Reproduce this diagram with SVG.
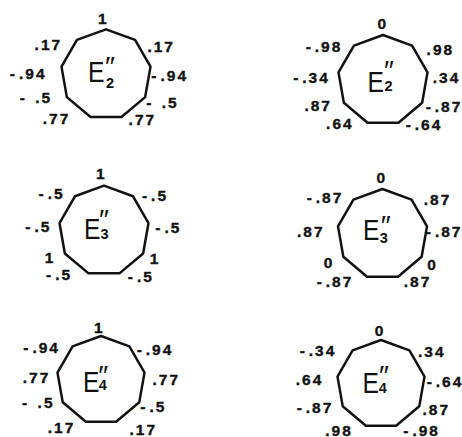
<svg xmlns="http://www.w3.org/2000/svg" xmlns:xlink="http://www.w3.org/1999/xlink" width="462" height="437" viewBox="0 0 462 437">
<style>
.bg{fill:#fff}
.poly{fill:none;stroke:#111;stroke-width:2.5;stroke-linejoin:round}
.v{font-family:"Liberation Sans",Arial,sans-serif;font-weight:bold;font-size:15.5px;letter-spacing:2px;text-anchor:middle;fill:#111;stroke:#111;stroke-width:0.35px}
.e{font-family:"Liberation Sans",Arial,sans-serif;font-size:29px;fill:#111}
.s{font-family:"Liberation Sans",Arial,sans-serif;font-weight:bold;font-size:14.5px;fill:#111}
.p{font-family:"Liberation Sans","DejaVu Sans",sans-serif;font-size:28px;fill:#111}
</style>
<defs>
<polygon id="nona" class="poly" points="0,-45.2 29.05,-34.62 44.51,-7.85 39.14,22.6 15.46,42.47 -15.46,42.47 -39.14,22.6 -44.51,-7.85 -29.05,-34.62"/>
</defs>
<rect class="bg" width="462" height="437"/>
<g id="connectors"/>
<g id="node-e2-a">
<use xlink:href="#nona" transform="translate(106,74.5)"/>
<text class="e" transform="translate(88.1,81.7) scale(0.85,1)">E</text>
<text class="s" x="106" y="88.3">2</text>
<text class="p" x="105" y="75.5">″</text>
<text class="v" x="103.2" y="23.5">1</text>
<text class="v" x="48.4" y="50">.17</text>
<text class="v" x="161.2" y="52.3">.17</text>
<text class="v" x="28.2" y="79">-<tspan dx="2">.94</tspan></text>
<text class="v" x="169.7" y="81.3">-<tspan dx="2">.94</tspan></text>
<text class="v" x="36" y="102.7">-<tspan dx="2"> .5</tspan></text>
<text class="v" x="162.4" y="108">-<tspan dx="2"> .5</tspan></text>
<text class="v" x="56.5" y="124">.77</text>
<text class="v" x="142.4" y="125">.77</text>
</g>
<g id="node-e2-b">
<use xlink:href="#nona" transform="translate(383,80.2)"/>
<text class="e" transform="translate(367.4,91.7) scale(0.85,1)">E</text>
<text class="s" x="384.5" y="90.7">2</text>
<text class="p" x="384" y="80">″</text>
<text class="v" x="382.7" y="29.3">0</text>
<text class="v" x="324" y="51.7">-<tspan dx="2">.98</tspan></text>
<text class="v" x="440.4" y="55">.98</text>
<text class="v" x="311.5" y="83.3">-<tspan dx="2">.34</tspan></text>
<text class="v" x="446.5" y="83.3">.34</text>
<text class="v" x="318.2" y="111">.87</text>
<text class="v" x="444" y="112.3">-<tspan dx="2">.87</tspan></text>
<text class="v" x="339.9" y="129.3">.64</text>
<text class="v" x="424" y="130">-<tspan dx="2">.64</tspan></text>
</g>
<g id="node-e3-a">
<use xlink:href="#nona" transform="translate(104,230.9)"/>
<text class="e" transform="translate(84.1,239.3) scale(0.85,1)">E</text>
<text class="s" x="100.5" y="239.3">3</text>
<text class="p" x="99" y="228.7">″</text>
<text class="v" x="101.3" y="179.3">1</text>
<text class="v" x="51.6" y="199.3">-<tspan dx="2">.5</tspan></text>
<text class="v" x="155" y="201">-<tspan dx="2">.5</tspan></text>
<text class="v" x="38.3" y="231.7">-<tspan dx="2">.5</tspan></text>
<text class="v" x="168.3" y="233.3">-<tspan dx="2">.5</tspan></text>
<text class="v" x="50" y="263.3">1</text>
<text class="v" x="155" y="264.3">1</text>
<text class="v" x="59.1" y="280">-<tspan dx="2">.5</tspan></text>
<text class="v" x="140.8" y="281.7">-<tspan dx="2">.5</tspan></text>
</g>
<g id="node-e3-b">
<use xlink:href="#nona" transform="translate(382.5,234.2)"/>
<text class="e" transform="translate(363.1,240) scale(0.85,1)">E</text>
<text class="s" x="379.8" y="243.3">3</text>
<text class="p" x="380.7" y="235.4">″</text>
<text class="v" x="381.8" y="183.3">0</text>
<text class="v" x="325" y="203.3">-<tspan dx="2">.87</tspan></text>
<text class="v" x="437.5" y="205">.87</text>
<text class="v" x="310.8" y="236.7">.87</text>
<text class="v" x="444.1" y="236.7">-<tspan dx="2">.87</tspan></text>
<text class="v" x="329.1" y="268.3">0</text>
<text class="v" x="432.5" y="270">0</text>
<text class="v" x="335" y="286.5">-<tspan dx="2">.87</tspan></text>
<text class="v" x="417.5" y="286.5">.87</text>
</g>
<g id="node-e4-a">
<use xlink:href="#nona" transform="translate(101,380.2) scale(0.978)"/>
<text class="e" transform="translate(83.1,391.7) scale(0.85,1)">E</text>
<text class="s" x="98.8" y="390">4</text>
<text class="p" x="98.3" y="385.4">″</text>
<text class="v" x="99.3" y="332.7">1</text>
<text class="v" x="41.6" y="353.3">-<tspan dx="2">.94</tspan></text>
<text class="v" x="155" y="355">-<tspan dx="2">.94</tspan></text>
<text class="v" x="36.6" y="383.3">.77</text>
<text class="v" x="166.3" y="385">.77</text>
<text class="v" x="38.3" y="408.3">-<tspan dx="2"> .5</tspan></text>
<text class="v" x="153.3" y="411.7">-<tspan dx="2">.5</tspan></text>
<text class="v" x="61.6" y="433.3">.17</text>
<text class="v" x="143.3" y="434.5">.17</text>
</g>
<g id="node-e4-b">
<use xlink:href="#nona" transform="translate(381,384.2) scale(0.978)"/>
<text class="e" transform="translate(362.4,393.3) scale(0.85,1)">E</text>
<text class="s" x="378.8" y="393.3">4</text>
<text class="p" x="379" y="385.4">″</text>
<text class="v" x="380" y="336">0</text>
<text class="v" x="318" y="356">-<tspan dx="2">.34</tspan></text>
<text class="v" x="431.8" y="356.7">.34</text>
<text class="v" x="309.6" y="385">.64</text>
<text class="v" x="445" y="386.7">-<tspan dx="2">.64</tspan></text>
<text class="v" x="315" y="413.3">-<tspan dx="2">.87</tspan></text>
<text class="v" x="436.3" y="415">.87</text>
<text class="v" x="339.1" y="435.5">.98</text>
<text class="v" x="421.6" y="435.5">-<tspan dx="2">.98</tspan></text>
</g>
</svg>
